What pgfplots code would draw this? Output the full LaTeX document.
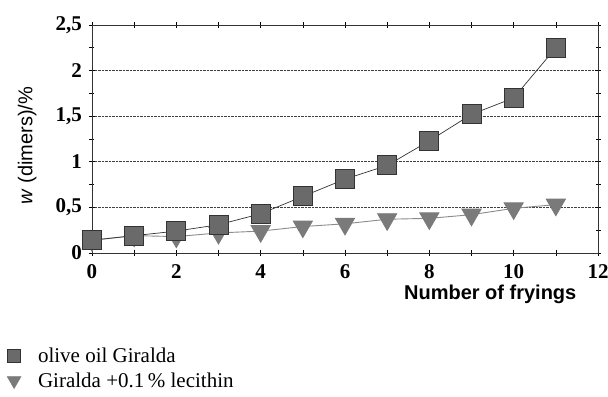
\documentclass[border=0pt]{standalone}
\usepackage{fontspec}
\setmainfont{Liberation Serif}
\setsansfont{Liberation Sans}
\usepackage{pgfplots}
\pgfplotsset{compat=1.18}
\definecolor{sqfill}{HTML}{6A6A6A}
\definecolor{sqedge}{HTML}{333333}
\definecolor{trfill}{HTML}{7A7A7A}
\definecolor{trline}{HTML}{8A8A8A}
\begin{document}
\begin{tikzpicture}
\begin{axis}[
  scale only axis,
  width=506pt, height=228pt,
  xmin=0, xmax=12, ymin=0, ymax=2.5,
  xtick={0,1,...,12},
  xticklabels={0,,2,,4,,6,,8,,10,,12},
  ytick={0,0.5,1,1.5,2,2.5},
  yticklabels={0,{0,5},1,{1,5},2,{2,5}},
  minor ytick={0.25,0.75,1.25,1.75,2.25},
  tick align=center,
  major tick length=6pt, minor tick length=5pt,
  tick style={black, line width=0.6pt},
  ticklabel style={font=\fontsize{21}{21}\selectfont\bfseries, inner sep=1pt},
  xticklabel style={yshift=-7pt},
  yticklabel style={xshift=-6pt},
  axis line style={line width=0.6pt, black!80},
  ymajorgrids,
  grid style={densely dotted, black!75, line width=0.7pt},
  xlabel={\sffamily\bfseries Number of fryings},
  xlabel style={at={(axis description cs:0.787,-0.18)}, anchor=center, inner sep=1pt, font=\fontsize{20}{20}\selectfont},
  ylabel={\sffamily\textit{w} (dimers)/\%},
  ylabel style={at={(axis description cs:-0.128,0.47)}, anchor=center, font=\fontsize{20}{20}\selectfont},
  legend style={at={(axis description cs:-0.168,-0.405)}, anchor=north west, draw=none, fill=none,
    font=\fontsize{21}{21}\selectfont, row sep=5pt, column sep=15pt, inner sep=0pt},
  legend cell align=left,
  clip=false,
]
\coordinate (bl) at (rel axis cs:0,0);
\coordinate (tr) at (rel axis cs:1,1);
\addplot[color=trline, line width=0.9pt, mark=triangle*, mark size=11pt,
  mark options={rotate=180, fill=trfill, draw=trfill}, forget plot]
coordinates {(0,0.14)(1,0.19)(2,0.18)(3,0.22)(4,0.24)(5,0.29)(6,0.32)(7,0.37)(8,0.38)(9,0.42)(10,0.49)(11,0.53)};
\addplot[color=sqedge, line width=0.7pt, mark=square*, mark size=9.5pt,
  mark options={fill=sqfill, draw=sqedge, line width=0.9pt}, forget plot]
coordinates {(0,0.14)(1,0.19)(2,0.24)(3,0.31)(4,0.43)(5,0.62)(6,0.81)(7,0.96)(8,1.23)(9,1.52)(10,1.70)(11,2.25)};
\addlegendimage{only marks, mark=square*, mark size=6.5pt, mark options={fill=sqfill, draw=sqedge}}
\addlegendentry{olive oil Giralda}
\addlegendimage{only marks, mark=triangle*, mark size=8pt, mark options={rotate=180, fill=trfill, draw=trfill}}
\addlegendentry{Giralda +0.1\,\% lecithin}
\end{axis}
\pgfresetboundingbox
\path[use as bounding box] ([shift={(-92pt,-144pt)}]bl) rectangle ([shift={(10pt,25pt)}]tr);
\end{tikzpicture}
\end{document}
